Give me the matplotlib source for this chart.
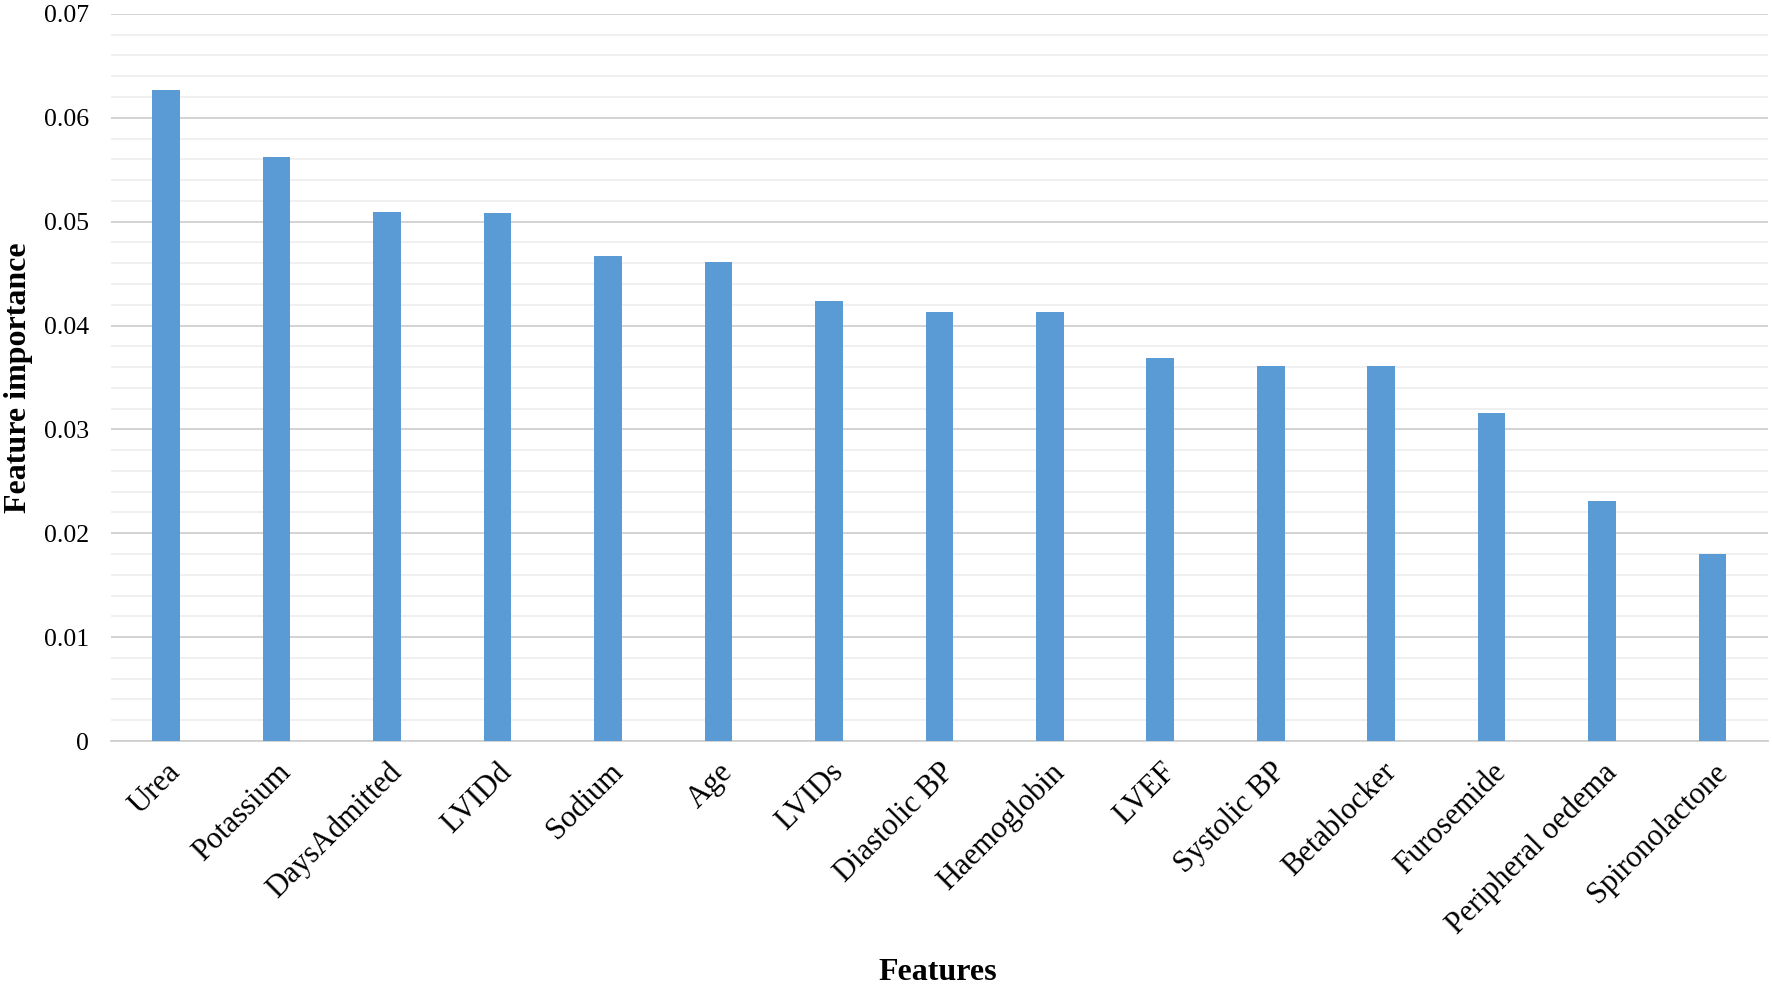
import matplotlib
matplotlib.use("Agg")
import matplotlib.pyplot as plt
from matplotlib.ticker import MultipleLocator, FuncFormatter

features = ["Urea", "Potassium", "DaysAdmitted", "LVIDd", "Sodium", "Age", "LVIDs",
            "Diastolic BP", "Haemoglobin", "LVEF", "Systolic BP", "Betablocker",
            "Furosemide", "Peripheral oedema", "Spironolactone"]
importance = [0.0627, 0.0562, 0.0509, 0.0508, 0.0467, 0.0461, 0.0424,
              0.0413, 0.0413, 0.0369, 0.0361, 0.0361, 0.0316, 0.0231, 0.0180]

plt.rcParams['font.family'] = ['Liberation Serif', 'DejaVu Serif']

fig = plt.figure(figsize=(17.72, 9.92), dpi=100)
ax = fig.add_axes([0.0626, 0.253, 0.935, 0.733])

x = list(range(len(features)))
ax.bar(x, importance, width=0.25, color="#5B9BD5", zorder=3)

ax.set_xlim(-0.5, len(features) - 0.5)
ax.set_ylim(0, 0.07)
ax.yaxis.set_major_locator(MultipleLocator(0.01))
ax.yaxis.set_minor_locator(MultipleLocator(0.002))
ax.yaxis.set_major_formatter(FuncFormatter(lambda v, p: "0" if abs(v) < 1e-12 else f"{v:.2f}"))
ax.grid(axis='y', which='major', color='#d0d0d0', linewidth=1.3, zorder=0)
ax.grid(axis='y', which='minor', color='#ececec', linewidth=1.1, zorder=0)

for s in ['top', 'right', 'left']:
    ax.spines[s].set_visible(False)
ax.spines['bottom'].set_color('#d0d0d0')
ax.spines['bottom'].set_linewidth(1.3)

ax.tick_params(axis='both', which='both', length=0)
ax.tick_params(axis='y', labelsize=18.5, pad=16)
ax.set_xticks(x)
ax.set_xticklabels(features, rotation=45, ha='right', rotation_mode='anchor', fontsize=22)
ax.tick_params(axis='x', pad=12)

fig.text(0.0105, 0.619, "Feature importance", fontsize=23, fontweight='bold',
         rotation=90, ha='center', va='center')
fig.text(0.529, 0.02, "Features", fontsize=23, fontweight='bold', ha='center', va='center')

fig.savefig("out.png", dpi=100)
